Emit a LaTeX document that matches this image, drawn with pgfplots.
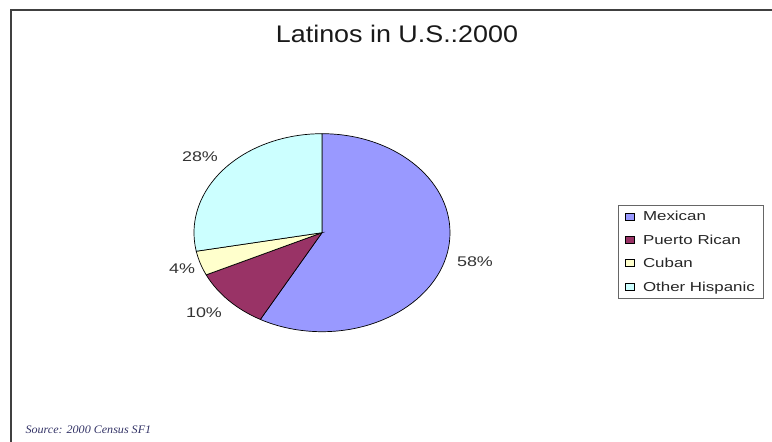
\documentclass[border=0pt]{standalone}
\usepackage{pgfplots}
\pgfplotsset{compat=1.18}
\usepackage{pgfplotstable}
\usepackage{fontspec}
\setmainfont{Liberation Sans}
\newfontfamily\titlefont[FakeStretch=1.12]{Liberation Sans}
\newfontfamily\labfont[FakeStretch=1.28]{Liberation Sans}
\newfontfamily\legfont[FakeStretch=1.3]{Liberation Sans}
\newfontfamily\srcfont[FakeStretch=1.05]{Liberation Serif}
\definecolor{mex}{HTML}{9999FF}
\definecolor{pr}{HTML}{993366}
\definecolor{cub}{HTML}{FFFFCC}
\definecolor{oth}{HTML}{CCFFFF}
\definecolor{srcblue}{HTML}{333366}

% percentages
\def\vMex{58}
\def\vPR{10}
\def\vCub{4}
\def\vOth{28}

% #1 cumulative start (percent), #2 share (percent), #3 colour
\newcommand\slice[3]{%
  \filldraw[fill=#3, draw=black, line width=0.7pt]
    (axis cs:0,0) -- (axis cs:{cos(90-3.6*(#1))},{sin(90-3.6*(#1))})
    arc[start angle={90-3.6*(#1)}, end angle={90-3.6*(#1+#2)},
        x radius=128pt, y radius=99pt] -- cycle;}

\begin{document}
\begin{tikzpicture}[x=1pt,y=1pt]
\useasboundingbox (0,0) rectangle (772,442);
\draw[line width=2pt, black!75] (10.5,-5) -- (10.5,431.5) -- (790,431.5);
\node[font=\titlefont\fontsize{24}{28}\selectfont, text=black!90] at (397,408.5) {Latinos in U.S.:2000};

\begin{axis}[at={(322pt,209.3pt)}, anchor=center,
  x=128pt, y=99pt, xmin=-1, xmax=1, ymin=-1, ymax=1,
  hide axis, clip=false,
  legend style={at={(1.656,0.640)}, anchor=north west, draw=black!60,
    line width=0.8pt, font=\legfont\fontsize{13}{14}\selectfont, text=black!85,
    inner xsep=7pt, inner ysep=4pt, row sep=8.5pt, cells={anchor=west}},
  legend image code/.code={\draw[#1, draw=black, line width=0.6pt] (5pt,-3pt) rectangle (14pt,4pt);
    \path (20pt,0pt);}
]
\slice{0}{\vMex}{mex}
\slice{\vMex}{\vPR}{pr}
\slice{\vMex+\vPR}{\vCub}{cub}
\slice{\vMex+\vPR+\vCub}{\vOth}{oth}
\addlegendimage{fill=mex}\addlegendentry{Mexican}
\addlegendimage{fill=pr}\addlegendentry{Puerto Rican}
\addlegendimage{fill=cub}\addlegendentry{Cuban}
\addlegendimage{fill=oth}\addlegendentry{Other Hispanic}
\end{axis}

\begin{scope}[every node/.style={font=\labfont\fontsize{14}{16}\selectfont, text=black!80}]
\node at (200,285) {28\%};
\node at (182,173) {4\%};
\node at (204,129) {10\%};
\node at (475,180) {58\%};
\end{scope}
\node[anchor=west, font=\srcfont\itshape\fontsize{11.5}{13}\selectfont, text=srcblue] at (22,12) {Source: 2000 Census SF1};
\end{tikzpicture}
\end{document}
